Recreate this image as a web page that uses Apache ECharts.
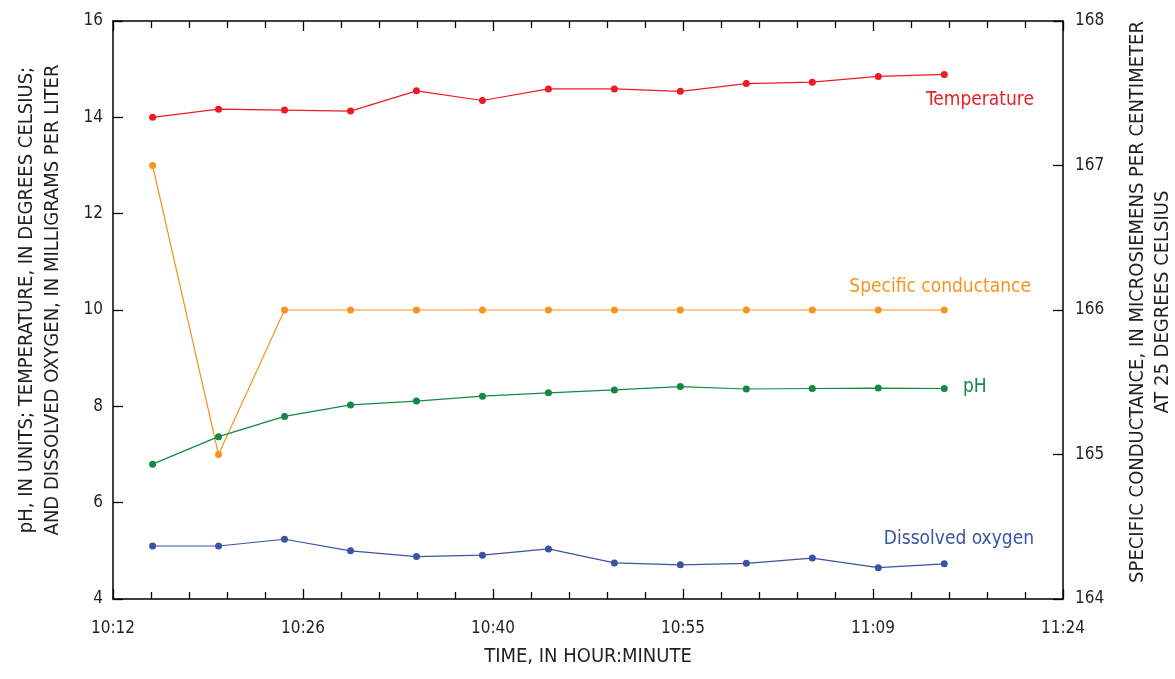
<!DOCTYPE html>
<html>
<head>
<meta charset="utf-8">
<script src="https://cdn.jsdelivr.net/npm/echarts@6/dist/echarts.min.js"></script>
<style>
html,body{margin:0;padding:0;background:#fff;}
#chart{width:1175px;height:679px;}
</style>
</head>
<body>
<div id="chart"></div>
<script>
// Minutes after 10:12
const times = [3, 8, 13, 18, 23, 28, 33, 38, 43, 48, 53, 58, 63];
const xTickLabels = ['10:12', '10:26', '10:40', '10:55', '11:09', '11:24'];
const temperature = [14.0, 14.17, 14.15, 14.13, 14.55, 14.35, 14.59, 14.59, 14.54, 14.70, 14.73, 14.85, 14.89];
const conductance = [167, 165, 166, 166, 166, 166, 166, 166, 166, 166, 166, 166, 166];
const ph = [6.80, 7.37, 7.79, 8.03, 8.11, 8.21, 8.28, 8.34, 8.41, 8.36, 8.37, 8.38, 8.37];
const dissolvedOxygen = [5.10, 5.10, 5.24, 5.00, 4.88, 4.91, 5.04, 4.75, 4.71, 4.74, 4.85, 4.65, 4.73];

const FONT = '"Liberation Sans Narrow", "DejaVu Sans Condensed", "Roboto Condensed", sans-serif';
const TXT = '#231f20';
const C_T = '#ed1c24', C_SC = '#f7941d', C_PH = '#138a43', C_DO = '#3a53a4';

const pair = arr => arr.map((v, i) => [times[i], v]);

const chart = echarts.init(document.getElementById('chart'), null, {renderer: 'canvas'});

function mkSeries(name, data, color, yIdx) {
  return {
    name, type: 'line', data: pair(data), yAxisIndex: yIdx,
    symbol: 'circle', symbolSize: 7,
    lineStyle: {color, width: 1.2},
    itemStyle: {color},
    animation: false, z: 3
  };
}

const axisLineStyle = {lineStyle: {color: '#000', width: 1.5}};
const tickStyle = {lineStyle: {color: '#000', width: 1.3}};

chart.setOption({
  animation: false,
  grid: {left: 113, right: 112, top: 21, bottom: 80, containLabel: false},
  xAxis: [
    {
      type: 'value', min: 0, max: 72, interval: 14.4, position: 'bottom',
      axisLine: {show: true, onZero: false, ...axisLineStyle},
      axisTick: {show: true, inside: true, length: 10, ...tickStyle},
      minorTick: {show: true, splitNumber: 5, length: 7, lineStyle: {color: '#000', width: 1.3}},
      splitLine: {show: false},
      axisLabel: {
        margin: 21, color: TXT, fontFamily: FONT, fontSize: 17,
        formatter: v => xTickLabels[Math.round(v / 14.4)] || ''
      },
      name: 'TIME, IN HOUR:MINUTE', nameLocation: 'middle', nameGap: 48,
      nameTextStyle: {color: TXT, fontFamily: FONT, fontSize: 20}
    },
    {
      type: 'value', min: 0, max: 72, interval: 14.4, position: 'top',
      axisLine: {show: true, onZero: false, ...axisLineStyle},
      axisTick: {show: true, inside: true, length: 10, ...tickStyle},
      minorTick: {show: true, splitNumber: 5, length: 7, lineStyle: {color: '#000', width: 1.3}},
      splitLine: {show: false},
      axisLabel: {show: false}
    }
  ],
  yAxis: [
    {
      type: 'value', min: 4, max: 16, interval: 2, position: 'left',
      axisLine: {show: true, onZero: false, ...axisLineStyle},
      axisTick: {show: true, inside: true, length: 10, ...tickStyle},
      splitLine: {show: false},
      axisLabel: {margin: 10, color: TXT, fontFamily: FONT, fontSize: 17}
    },
    {
      type: 'value', min: 164, max: 168, interval: 1, position: 'right',
      axisLine: {show: true, onZero: false, ...axisLineStyle},
      axisTick: {show: true, inside: true, length: 10, ...tickStyle},
      splitLine: {show: false},
      axisLabel: {margin: 12, color: TXT, fontFamily: FONT, fontSize: 17}
    }
  ],
  series: [
    mkSeries('Temperature', temperature, C_T, 0),
    mkSeries('Specific conductance', conductance, C_SC, 1),
    mkSeries('pH', ph, C_PH, 0),
    mkSeries('Dissolved oxygen', dissolvedOxygen, C_DO, 0)
  ],
  graphic: [
    {type: 'text', x: 40, y: 300, rotation: Math.PI / 2,
     style: {text: 'pH, IN UNITS; TEMPERATURE, IN DEGREES CELSIUS;\nAND DISSOLVED OXYGEN, IN MILLIGRAMS PER LITER',
             x: 0, y: 0, align: 'center', verticalAlign: 'middle', lineHeight: 26,
             fill: TXT, font: '20px ' + FONT}},
    {type: 'text', x: 1150, y: 302, rotation: Math.PI / 2,
     style: {text: 'SPECIFIC CONDUCTANCE, IN MICROSIEMENS PER CENTIMETER\nAT 25 DEGREES CELSIUS',
             x: 0, y: 0, align: 'center', verticalAlign: 'middle', lineHeight: 25,
             fill: TXT, font: '20px ' + FONT}},
    {type: 'text', x: 1034, y: 100, style: {text: 'Temperature', align: 'right', verticalAlign: 'middle', fill: C_T, font: '19px ' + FONT}},
    {type: 'text', x: 1031, y: 287, style: {text: 'Specific conductance', align: 'right', verticalAlign: 'middle', fill: C_SC, font: '19px ' + FONT}},
    {type: 'text', x: 963, y: 387, style: {text: 'pH', align: 'left', verticalAlign: 'middle', fill: C_PH, font: '19px ' + FONT}},
    {type: 'text', x: 1034, y: 539, style: {text: 'Dissolved oxygen', align: 'right', verticalAlign: 'middle', fill: C_DO, font: '19px ' + FONT}}
  ]
});
</script>
</body>
</html>
